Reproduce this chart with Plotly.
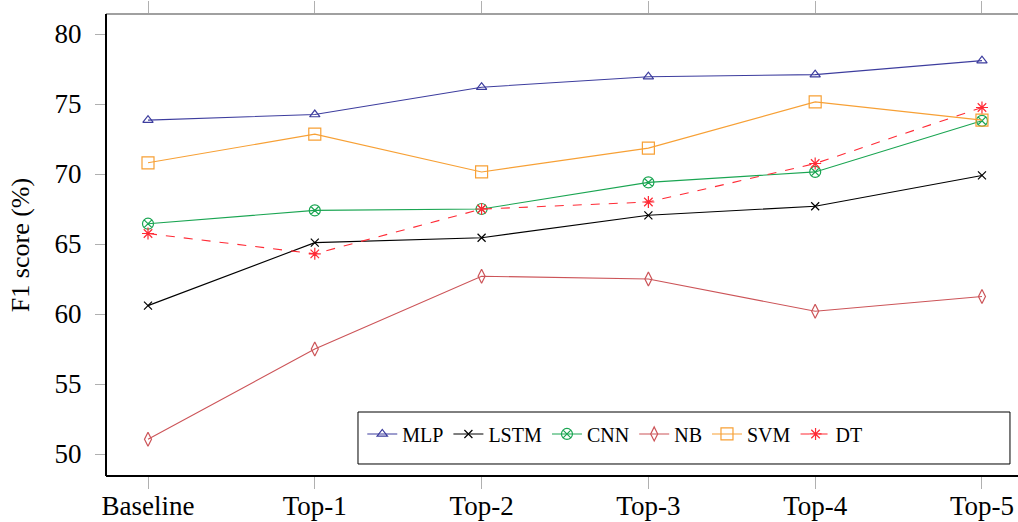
import plotly.graph_objects as go

categories = ["Baseline", "Top-1", "Top-2", "Top-3", "Top-4", "Top-5"]
mlp = [73.85, 74.25, 76.2, 76.95, 77.1, 78.1]
lstm = [60.6, 65.1, 65.45, 67.05, 67.7, 69.9]
cnn = [66.45, 67.4, 67.5, 69.4, 70.15, 73.8]
nb = [51.05, 57.5, 62.7, 62.5, 60.2, 61.25]
svm = [70.8, 72.85, 70.15, 71.85, 75.15, 73.85]
dt = [65.75, 64.3, 67.5, 68.0, 70.75, 74.75]

FONT = "Liberation Serif"

series = [
    ("MLP", mlp, "#3d3d9e", "triangle-up-open", 9, "solid"),
    ("LSTM", lstm, "#000000", "x-thin-open", 8, "solid"),
    ("CNN", cnn, "#1aa552", "circle-x-open", 11, "solid"),
    ("NB", nb, "#cc5458", "diamond-tall-open", 10, "solid"),
    ("SVM", svm, "#f7a035", "square-open", 12, "solid"),
    ("DT", dt, "#ff2a35", "asterisk-open", 10, "dash"),
]

fig = go.Figure()
xi = list(range(len(categories)))
for name, vals, col, sym, sz, dash in series:
    fig.add_trace(go.Scatter(
        x=xi, y=vals, name=name, mode="lines+markers",
        line=dict(color=col, width=1.1, dash=dash),
        marker=dict(symbol=sym, size=sz, color=col, line=dict(color=col, width=1.2)),
    ))

# invisible helper trace so the label axis (xaxis2) is drawn
fig.add_trace(go.Scatter(x=xi, y=[None] * len(xi), xaxis="x2", yaxis="y",
                         showlegend=False, hoverinfo="skip", mode="markers"))

xrange = [-0.2518, 5.216]

fig.update_layout(
    width=1018, height=522,
    margin=dict(l=106, r=0, t=14, b=46, autoexpand=False),
    paper_bgcolor="white", plot_bgcolor="white",
    font=dict(family=FONT, color="black"),
    showlegend=True,
    legend=dict(
        orientation="h", x=0.281, y=0.091, xanchor="left", yanchor="middle",
        bgcolor="rgba(0,0,0,0)", borderwidth=0,
        font=dict(family=FONT, size=20), itemwidth=30,
    ),
    xaxis=dict(
        range=xrange, tickmode="array", tickvals=xi, showticklabels=False,
        showgrid=False, zeroline=False, showline=False, automargin=False,
        ticks="outside", ticklen=12, tickcolor="#b0b0b0", tickwidth=1,
        mirror="ticks",
    ),
    xaxis2=dict(
        range=xrange, overlaying="x", side="bottom", tickmode="array",
        tickvals=xi, ticktext=categories,
        showgrid=False, zeroline=False, showline=False, automargin=False,
        ticks="outside", ticklen=6, tickcolor="rgba(0,0,0,0)",
        tickfont=dict(family=FONT, size=27), ticklabelstandoff=0,
    ),
    yaxis=dict(
        range=[48.43, 81.43], tickmode="array", tickvals=[50, 55, 60, 65, 70, 75, 80],
        showgrid=False, zeroline=False, showline=False, automargin=False,
        ticks="outside", ticklen=10, tickcolor="#b0b0b0", tickwidth=1,
        tickfont=dict(family=FONT, size=27), ticklabelstandoff=8,
        title=dict(text="F1 score (%)", font=dict(family=FONT, size=26), standoff=17),
    ),
    shapes=[
        dict(type="rect", xref="paper", yref="paper", x0=0.2763, x1=0.9912, y0=0.026, y1=0.1385,
             line=dict(color="black", width=1), fillcolor="white", layer="above"),
        dict(type="line", xref="paper", yref="paper", x0=0, x1=1, y0=1, y1=1,
             line=dict(color="#808080", width=1.5), layer="above"),
        dict(type="line", xref="paper", yref="paper", x0=0, x1=1, y0=0, y1=0,
             line=dict(color="black", width=2), layer="above"),
        dict(type="line", xref="paper", yref="paper", x0=0, x1=0, y0=0, y1=1,
             line=dict(color="black", width=2), layer="above"),
    ],
)

fig.write_html("out.html", config={"displayModeBar": False},
               post_script="document.body.style.margin='0';")
